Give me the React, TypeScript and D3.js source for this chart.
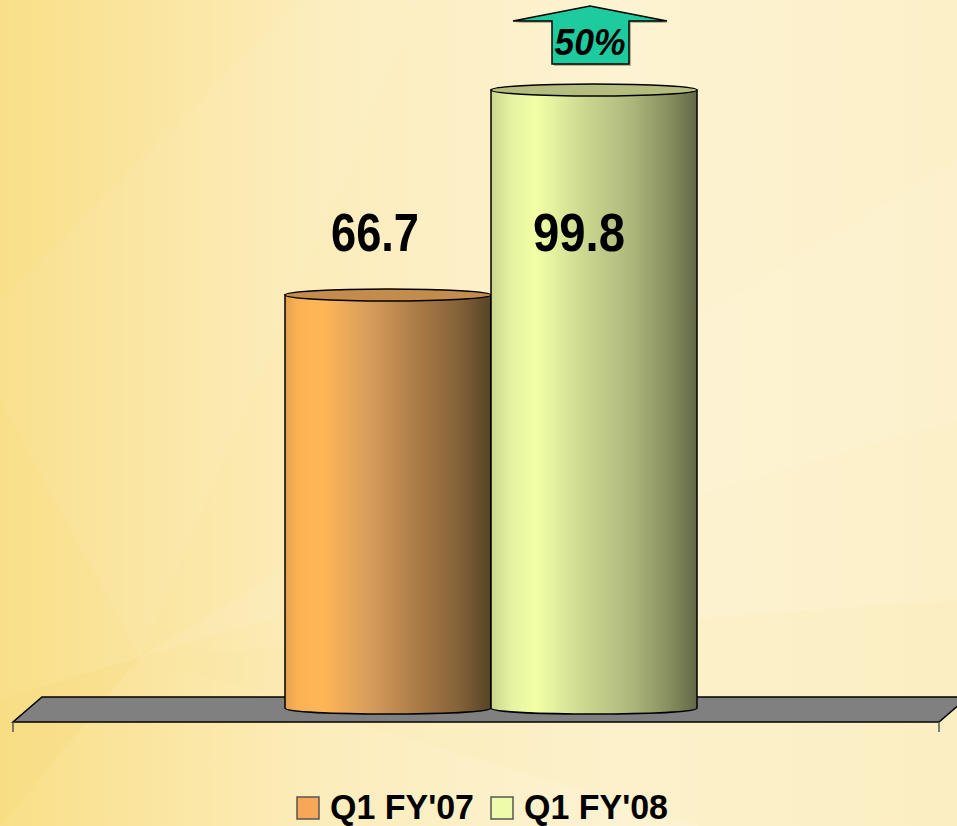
import React from 'react';
import * as d3 from 'd3';

const categories = ["Q1 FY'07", "Q1 FY'08"];
const values = [66.7, 99.8];
const valueLabels = ['66.7', '99.8'];
const growthLabel = '50%';

const W = 957;
const H = 826;
const FONT = "'Liberation Sans', Arial, sans-serif";

const sideStops = [
  [
    ['0%', '#E2A050'], ['6%', '#FCB252'], ['18%', '#FFB656'], ['40%', '#D99E5C'],
    ['65%', '#A97A46'], ['85%', '#836138'], ['100%', '#564326'],
  ],
  [
    ['0%', '#C9D58C'], ['10%', '#E6F3A0'], ['22%', '#F2FFA6'], ['45%', '#CCD890'],
    ['68%', '#AEB77C'], ['86%', '#889060'], ['100%', '#626846'],
  ],
];
const topFill = ['#C48C4C', '#B5BD7E'];
const legendFill = ['#F7A756', '#EEFBAA'];

const App: React.FC = () => {
  const x = d3.scaleBand<string>().domain(categories).range([285, 697]).paddingInner(0).paddingOuter(0);
  const y = d3.scaleLinear().domain([0, 100]).range([708, 88.7]);
  const ry = 6;

  const cylinder = (x0: number, w: number, yTop: number, yBot: number) => {
    const p = d3.path();
    p.moveTo(x0, yTop);
    p.lineTo(x0, yBot);
    p.bezierCurveTo(x0, yBot + ry * 1.33, x0 + w, yBot + ry * 1.33, x0 + w, yBot);
    p.lineTo(x0 + w, yTop);
    p.closePath();
    return p.toString();
  };

  return (
    <svg width={W} height={H} style={{ position: 'fixed', left: 0, top: 0, display: 'block' }}>
      <defs>
        <linearGradient id="bg" x1="0" y1="0" x2="1" y2="0">
          <stop offset="0%" stopColor="#F9DF88" />
          <stop offset="35%" stopColor="#FCEDBD" />
          <stop offset="65%" stopColor="#FDF3D2" />
          <stop offset="100%" stopColor="#FCF0C8" />
        </linearGradient>
        {sideStops.map((s, i) => (
          <linearGradient key={i} id={`side${i}`} x1="0" y1="0" x2="1" y2="0">
            {s.map(([o, c]) => <stop key={o} offset={o} stopColor={c} />)}
          </linearGradient>
        ))}
      </defs>
      <rect x={0} y={0} width={W} height={H} fill="url(#bg)" />
      {/* faint light rays */}
      <polygon points="140,657 0,400 0,300 300,0 420,0" fill="#FFFFFF" opacity={0.06} />
      <polygon points="140,657 957,160 957,420" fill="#FFFFFF" opacity={0.08} />
      <polygon points="140,657 0,826 0,700" fill="#F7D878" opacity={0.25} />
      <polygon points="140,657 957,600 957,826 700,826" fill="#F9E3A0" opacity={0.12} />

      {/* floor */}
      <polygon points="42,697 968,697 939,722 13,722" fill="#808080" stroke="#000" strokeWidth={1.5} />
      <line x1={13} y1={722} x2={13} y2={732} stroke="#555" strokeWidth={1.5} />
      <line x1={939} y1={722} x2={939} y2={732} stroke="#555" strokeWidth={1.5} />

      {/* cylinders */}
      {categories.map((c, i) => {
        const x0 = x(c) as number;
        const w = x.bandwidth();
        const yTop = y(values[i]);
        const yBot = y(0);
        return (
          <g key={c}>
            <path d={cylinder(x0, w, yTop, yBot)} fill={`url(#side${i})`} stroke="#000" strokeWidth={1.5} />
            <ellipse cx={x0 + w / 2} cy={yTop} rx={w / 2} ry={ry} fill={topFill[i]} stroke="#000" strokeWidth={1.5} />
          </g>
        );
      })}

      {/* value labels */}
      {categories.map((c, i) => (
        <text
          key={c}
          x={(x(c) as number) + x.bandwidth() / 2 - (i === 0 ? 13 : 15)}
          y={251}
          textAnchor="middle"
          fontFamily={FONT}
          fontWeight="bold"
          fontSize={53}
          textLength={i === 0 ? 88 : 92}
          lengthAdjust="spacingAndGlyphs"
          fill="#000"
        >
          {valueLabels[i]}
        </text>
      ))}

      {/* growth arrow */}
      <polygon points="592,8 669,23 631,23 631,66 554,66 554,23 515,23" fill="#8A8A60" opacity={0.6} />
      <polygon points="590,6 667,21 629,21 629,64 552,64 552,21 513,21" fill="#1ECB9E" stroke="#000" strokeWidth={1.5} />
      <text x={590} y={55} textAnchor="middle" fontFamily={FONT} fontWeight="bold" fontStyle="italic" fontSize={37}
        textLength={71} lengthAdjust="spacingAndGlyphs" fill="#000">
        {growthLabel}
      </text>

      {/* legend */}
      {categories.map((c, i) => {
        const bx = i === 0 ? 297 : 491;
        return (
          <g key={c}>
            <rect x={bx} y={797} width={22} height={22} fill={legendFill[i]} stroke="#555" strokeWidth={1.5} />
            <text x={bx + 33} y={819} fontFamily={FONT} fontWeight="bold" fontSize={35} textLength={144}
              lengthAdjust="spacingAndGlyphs" fill="#000">
              {c}
            </text>
          </g>
        );
      })}
    </svg>
  );
};

export default App;
